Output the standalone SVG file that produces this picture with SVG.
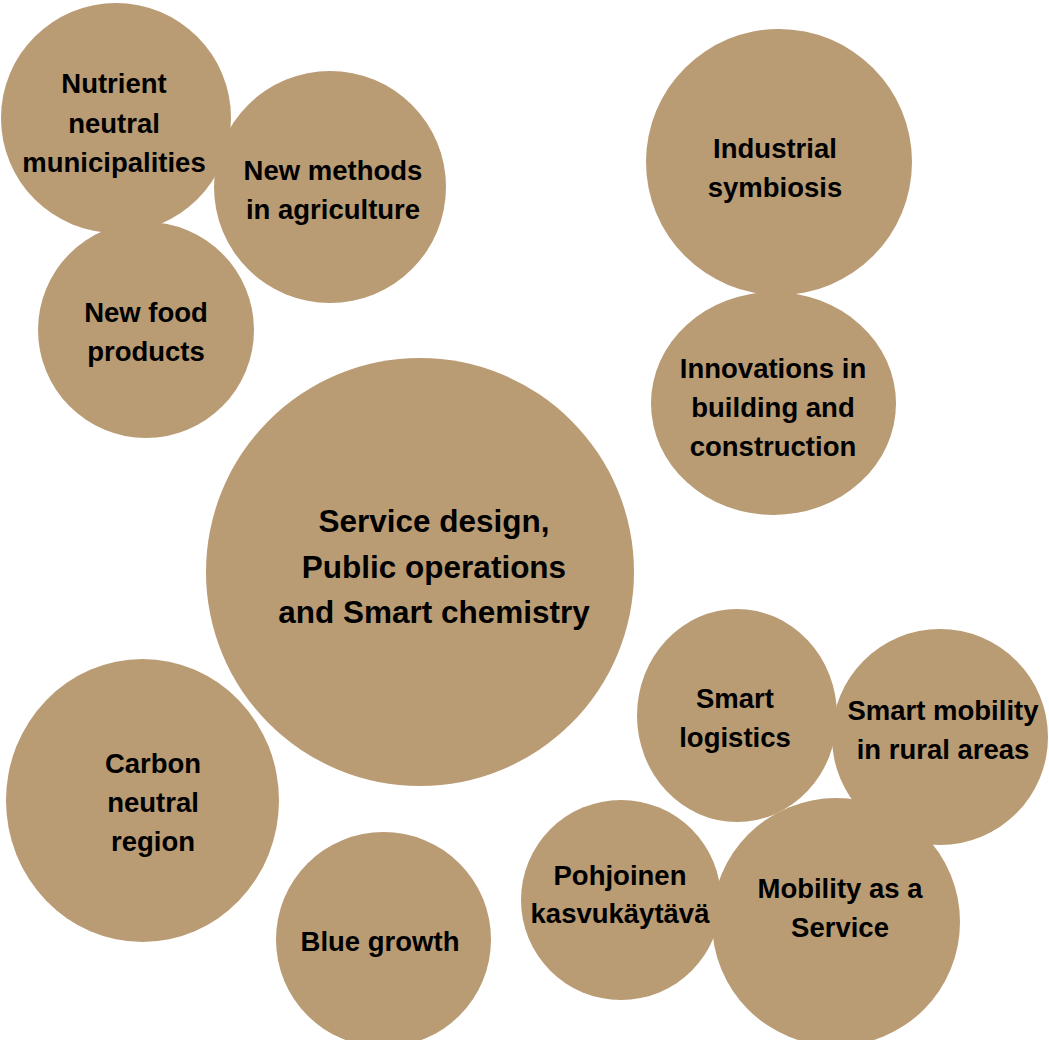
<svg xmlns="http://www.w3.org/2000/svg" width="1049" height="1040" viewBox="0 0 1049 1040">
<style>
.c{fill:#B99B74;stroke:none}
.t{font-family:"Liberation Sans",Arial,sans-serif;font-weight:bold;font-size:27.5px;fill:#000;text-anchor:middle}
.big{font-size:31.5px}
</style>
<rect width="1049" height="1040" fill="#ffffff"/>
<g id="connectors"></g>
<g id="n-nutrient"><circle class="c" cx="116" cy="118" r="115"/><text class="t"><tspan x="114" y="93">Nutrient</tspan><tspan x="114" y="133">neutral</tspan><tspan x="114" y="172">municipalities</tspan></text></g>
<g id="n-methods"><circle class="c" cx="330" cy="187" r="116"/><text class="t"><tspan x="333" y="180">New methods</tspan><tspan x="333" y="219">in agriculture</tspan></text></g>
<g id="n-food"><circle class="c" cx="146" cy="330" r="108"/><text class="t"><tspan x="146" y="322">New food</tspan><tspan x="146" y="361">products</tspan></text></g>
<g id="n-industrial"><circle class="c" cx="779" cy="162" r="133"/><text class="t"><tspan x="775" y="158">Industrial</tspan><tspan x="775" y="197">symbiosis</tspan></text></g>
<g id="n-innovations"><ellipse class="c" cx="773.5" cy="403.5" rx="122.5" ry="111.5"/><text class="t"><tspan x="773" y="378">Innovations in</tspan><tspan x="773" y="417">building and</tspan><tspan x="773" y="456">construction</tspan></text></g>
<g id="n-service"><circle class="c" cx="420" cy="572" r="214"/><text class="t big"><tspan x="434" y="532">Service design,</tspan><tspan x="434" y="578">Public operations</tspan><tspan x="434" y="623">and Smart chemistry</tspan></text></g>
<g id="n-carbon"><ellipse class="c" cx="142.5" cy="800.5" rx="136.5" ry="141.5"/><text class="t"><tspan x="153" y="773">Carbon</tspan><tspan x="153" y="812">neutral</tspan><tspan x="153" y="851">region</tspan></text></g>
<g id="n-blue"><circle class="c" cx="383.5" cy="939.5" r="107.5"/><text class="t"><tspan x="380" y="951">Blue growth</tspan></text></g>
<g id="n-logistics"><ellipse class="c" cx="737" cy="715.5" rx="100" ry="106.5"/><text class="t"><tspan x="735" y="708">Smart</tspan><tspan x="735" y="747">logistics</tspan></text></g>
<g id="n-mobility"><circle class="c" cx="940" cy="737" r="108"/><text class="t"><tspan x="943" y="720">Smart mobility</tspan><tspan x="943" y="759">in rural areas</tspan></text></g>
<g id="n-pohjoinen"><circle class="c" cx="621" cy="900" r="100"/><text class="t"><tspan x="620" y="885">Pohjoinen</tspan><tspan x="620" y="923">kasvukäytävä</tspan></text></g>
<g id="n-maas"><circle class="c" cx="836" cy="922" r="124"/><text class="t"><tspan x="840" y="898">Mobility as a</tspan><tspan x="840" y="937">Service</tspan></text></g>
</svg>
